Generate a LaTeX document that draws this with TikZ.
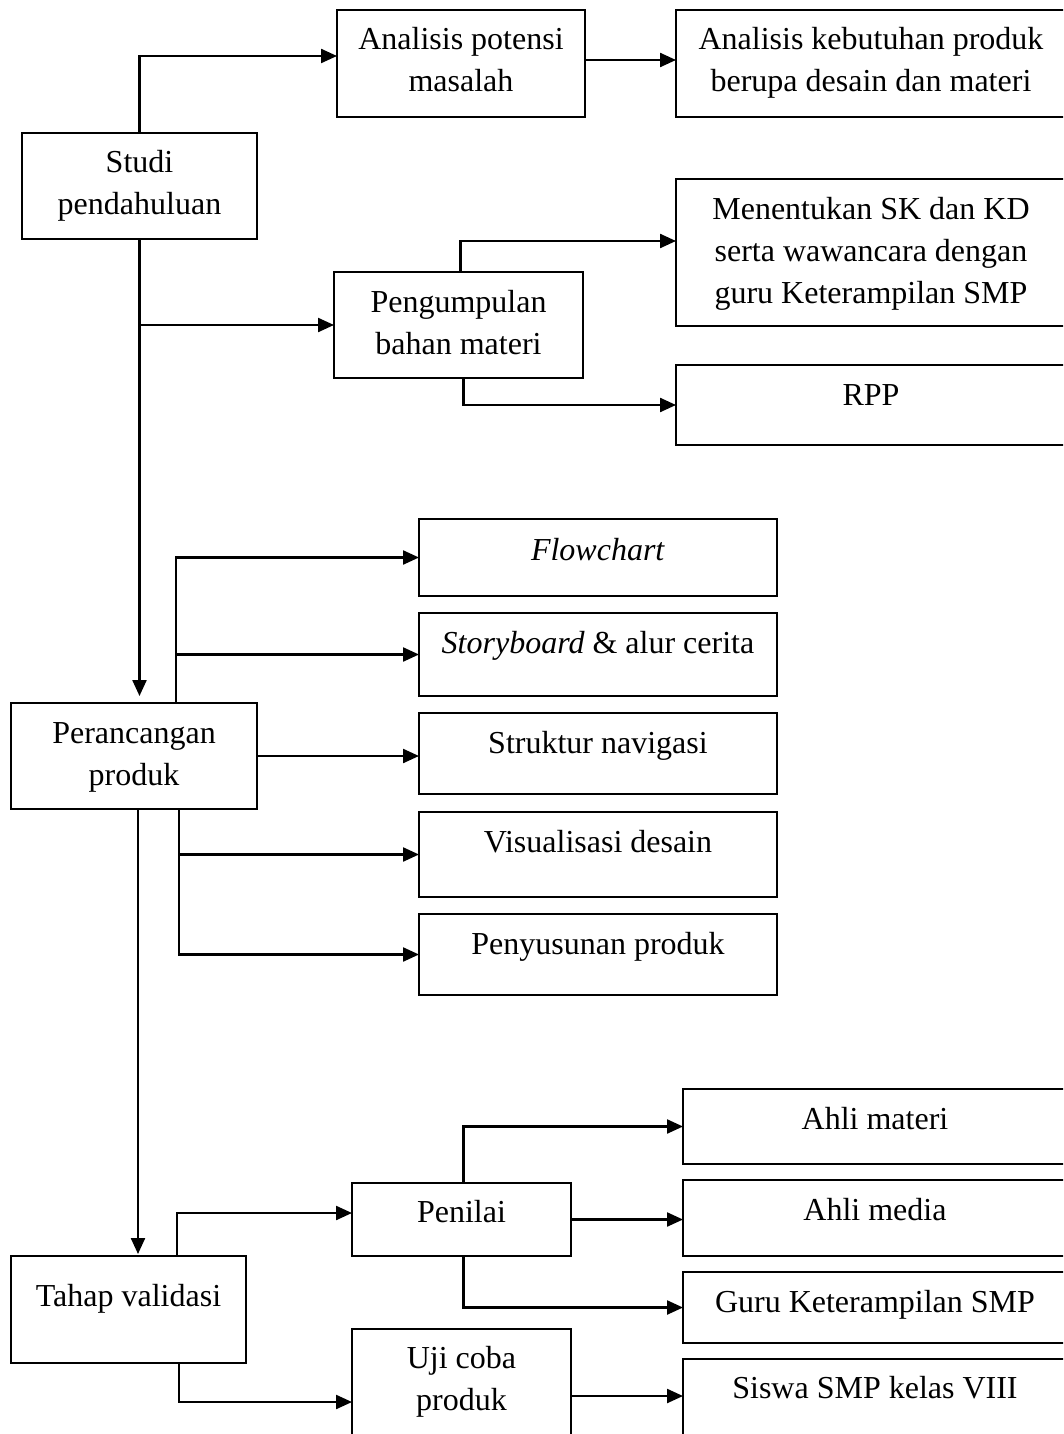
\documentclass[tikz,border=0pt]{standalone}
\usepackage{fontspec}
\setmainfont{Liberation Serif}
\usetikzlibrary{arrows.meta}

% text block of a box: width, height, first-baseline offset, lines
\newcommand\boxtext[4]{\parbox[t][#2pt][t]{#1pt}{\centering\rule{0pt}{#3pt}#4}}

\begin{document}
\begin{tikzpicture}[x=1pt,y=-1pt,
  font=\fontsize{32}{42}\selectfont,
  box/.style={draw, line width=2.3pt, inner sep=0pt, outer sep=0pt, anchor=north west},
  arr/.style={line width=2.3pt, -{Triangle[length=16pt,width=14pt]}}]
\useasboundingbox (0,0) rectangle (1063,1434);
\clip (0,0) rectangle (1063,1434);

% stage 1: preliminary study
\node[box] (studi) at (22,133) {\boxtext{235}{106}{40}{Studi\\pendahuluan}};
\node[box] (apm) at (337,10) {\boxtext{248}{107}{40}{Analisis potensi\\masalah}};
\node[box] (akp) at (676,10) {\boxtext{390}{107}{40}{Analisis kebutuhan produk\\berupa desain dan materi}};
\node[box] (pbm) at (334,272) {\boxtext{249}{106}{40}{Pengumpulan\\bahan materi}};
\node[box] (skkd) at (676,179) {\boxtext{390}{147}{40}{Menentukan SK dan KD\\serta wawancara dengan\\guru Keterampilan SMP}};
\node[box] (rpp) at (676,365) {\boxtext{390}{80}{40}{RPP}};

% stage 2: product design
\node[box] (rancang) at (11,703) {\boxtext{246}{106}{40}{Perancangan\\produk}};
\node[box] (flow) at (419,519) {\boxtext{358}{77}{41}{\textit{Flowchart}}};
\node[box] (story) at (419,613) {\boxtext{358}{83}{40}{\textit{Storyboard} \& alur cerita}};
\node[box] (nav) at (419,713) {\boxtext{358}{81}{40}{Struktur navigasi}};
\node[box] (vis) at (419,812) {\boxtext{358}{85}{40}{Visualisasi desain}};
\node[box] (susun) at (419,914) {\boxtext{358}{81}{40}{Penyusunan produk}};

% stage 3: validation
\node[box] (validasi) at (11,1256) {\boxtext{235}{107}{50}{Tahap validasi}};
\node[box] (nilai) at (352,1183) {\boxtext{219}{73}{39}{Penilai}};
\node[box] (materi) at (683,1089) {\boxtext{384}{75}{40}{Ahli materi}};
\node[box] (media) at (683,1180) {\boxtext{384}{76}{40}{Ahli media}};
\node[box] (guru) at (683,1272) {\boxtext{384}{71}{40}{Guru Keterampilan SMP}};
\node[box] (uji) at (352,1329) {\boxtext{219}{150}{39}{Uji coba\\produk}};
\node[box] (siswa) at (683,1359) {\boxtext{384}{120}{39}{Siswa SMP kelas VIII}};

% connectors of stage 1
\draw[arr] (studi.north) |- (apm.west |- 0,56);
\draw[arr] (apm.east |- 0,60) -- (akp.west |- 0,60);
\draw[arr, shorten >=7pt] (studi.south) -- (studi.south |- rancang.north);
\draw[arr] (studi.south |- pbm.west) -- (pbm.west);
\draw[arr] ([xshift=2pt]pbm.north) |- (skkd.west |- 0,241);
\draw[arr] ([xshift=5pt]pbm.south) |- (rpp.west);

% connectors of stage 2
\draw[arr] (176,0 |- rancang.north) |- (flow.west);
\draw[arr] (176,0 |- story.west) -- (story.west);
\draw[arr] (rancang.east) -- (rancang.east -| nav.west);
\draw[arr] (179,0 |- vis.west) -- (vis.west);
\draw[arr] (179,0 |- rancang.south) |- (susun.west);
\draw[arr, shorten >=2pt] (138,0 |- rancang.south) -- (138,0 |- validasi.north);

% connectors of stage 3
\draw[arr] (177,0 |- validasi.north) |- (nilai.west |- 0,1213);
\draw[arr] ([xshift=2pt]nilai.north) |- (materi.west);
\draw[arr] (nilai.east) -- (nilai.east -| media.west);
\draw[arr] ([xshift=2pt]nilai.south) |- (guru.west);
\draw[arr] (179,0 |- validasi.south) |- (uji.west |- 0,1402);
\draw[arr] (uji.east |- 0,1396) -- (siswa.west |- 0,1396);
\end{tikzpicture}
\end{document}
